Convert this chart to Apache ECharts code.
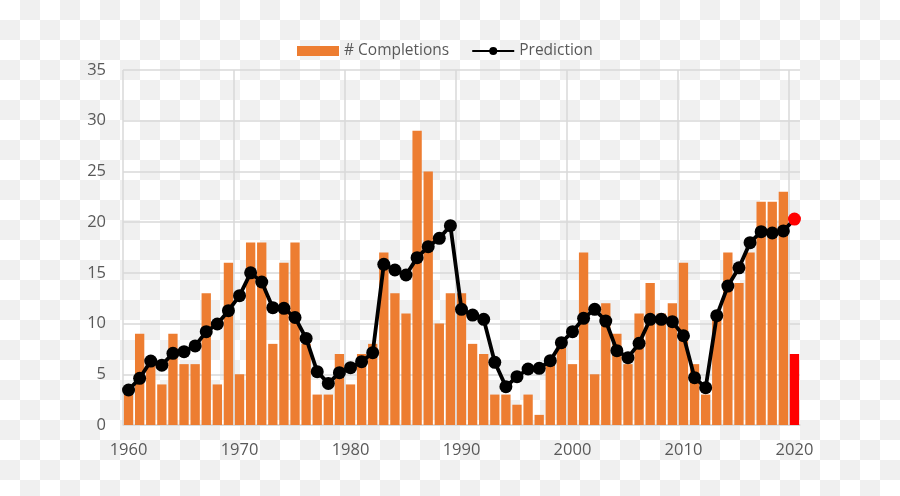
<!DOCTYPE html>
<html>
<head>
<meta charset="utf-8">
<script src="https://cdn.jsdelivr.net/npm/echarts@6/dist/echarts.min.js"></script>
<style>
html,body{margin:0;padding:0;width:900px;height:496px;overflow:hidden;}
body{background-color:#fff;background-image:repeating-conic-gradient(#f0f0f0 0 25%, #ffffff 0 50%);background-size:40px 40px;background-position:0 0;}
#chart{width:900px;height:496px;}
</style>
</head>
<body>
<div id="chart"></div>
<script>
var years = ["1960","1961","1962","1963","1964","1965","1966","1967","1968","1969",
"1970","1971","1972","1973","1974","1975","1976","1977","1978","1979",
"1980","1981","1982","1983","1984","1985","1986","1987","1988","1989",
"1990","1991","1992","1993","1994","1995","1996","1997","1998","1999",
"2000","2001","2002","2003","2004","2005","2006","2007","2008","2009",
"2010","2011","2012","2013","2014","2015","2016","2017","2018","2019",
"2020"];
var completions = [3,9,6,4,9,6,6,13,4,16,
5,18,18,8,16,18,8,3,3,7,
4,7,8,17,13,11,29,25,10,13,
13,8,7,3,3,2,3,1,6,8,
6,17,5,12,9,6,11,14,11,12,
16,6,3,11,17,14,17,22,22,23,
7];
var prediction = [3.45,4.6,6.3,5.9,7.07,7.23,7.8,9.2,9.96,11.27,
12.75,15.0,14.1,11.57,11.5,10.6,8.54,5.26,4.1,5.16,
5.65,6.24,7.13,15.84,15.28,14.79,16.5,17.58,18.4,19.65,
11.4,10.84,10.42,6.18,3.78,4.76,5.52,5.59,6.34,8.12,
9.2,10.52,11.4,10.25,7.33,6.64,8.05,10.42,10.42,10.19,
8.8,4.67,3.68,10.78,13.7,15.5,17.98,19.06,18.93,19.13,
20.3];
var yTicks = [0,5,10,15,20,25,30,35];
var highlightYear = "2020";

var ORANGE = '#ED7D31', RED = '#FF0000', TXT = '#595959', GRID = '#d9d9d9';
var barData = completions.map(function(v,i){
  return years[i] === highlightYear ? {value:v, itemStyle:{color:RED}} : v;
});
var lineData = prediction.map(function(v,i){
  return years[i] === highlightYear ? {value:v, itemStyle:{color:RED, borderColor:RED}} : v;
});

var chart = echarts.init(document.getElementById('chart'), null, {renderer:'canvas'});
chart.setOption({
  backgroundColor:'transparent',
  animation:false,
  textStyle:{fontFamily:'Open Sans'},
  legend:{
    left:292, top:38,
    itemWidth:42, itemHeight:10, itemGap:22,
    textStyle:{color:TXT, fontSize:15.5, fontFamily:'Open Sans'},
    data:[{name:'# Completions', icon:'rect'}, {name:'Prediction'}]
  },
  grid:{left:123, right:100, top:70, bottom:71, containLabel:false},
  xAxis:{
    type:'category', data:years, boundaryGap:true,
    axisLine:{show:true, lineStyle:{color:GRID, width:1.5}},
    axisTick:{show:false},
    axisLabel:{interval:9, color:TXT, fontSize:16.5, margin:17, fontFamily:'Open Sans'},
    splitLine:{show:true, interval:9,
      lineStyle:{color:[GRID,GRID,GRID,GRID,GRID,GRID,GRID,'rgba(0,0,0,0)'], width:1.5}}
  },
  yAxis:{
    type:'value', min:yTicks[0], max:yTicks[yTicks.length-1], interval:5,
    axisLine:{show:false}, axisTick:{show:false},
    axisLabel:{color:TXT, fontSize:16.5, margin:17, fontFamily:'Open Sans'},
    splitLine:{show:true, lineStyle:{color:GRID, width:1.5}}
  },
  series:[
    {name:'# Completions', type:'bar', data:barData, barCategoryGap:'16%',
     itemStyle:{color:ORANGE}, z:2},
    {name:'Prediction', type:'line', data:lineData, symbol:'circle', symbolSize:13,
     showAllSymbol:true,
     lineStyle:{color:'#000', width:3.8}, itemStyle:{color:'#000', borderColor:'#000', borderWidth:0},
     z:3}
  ]
});
</script>
</body>
</html>
